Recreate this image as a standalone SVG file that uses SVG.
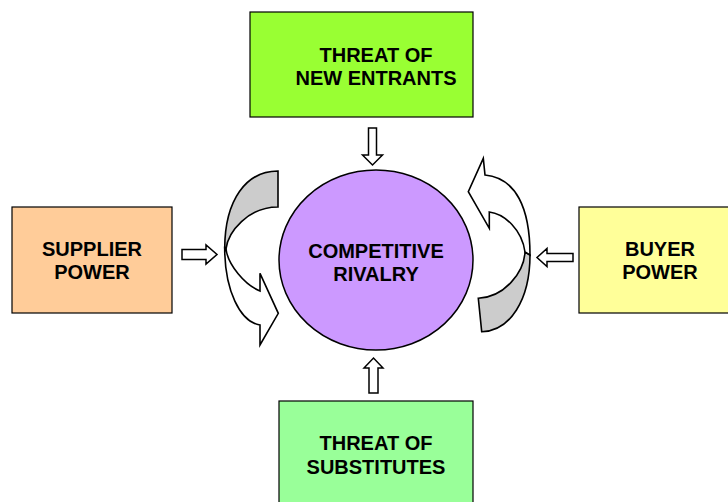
<svg xmlns="http://www.w3.org/2000/svg" width="728" height="502" viewBox="0 0 728 502">
  <style>
    .box { stroke: #000; stroke-width: 1.2; }
    .lbl { font-family: "Liberation Sans", Arial, sans-serif; font-weight: bold; font-size: 20px; fill: #000; text-anchor: middle; }
    .blk { fill: #fff; stroke: #000; stroke-width: 1.5; stroke-linejoin: miter; }
    .back { fill: #cccccc; stroke: #000; stroke-width: 1.6; stroke-linejoin: miter; }
    .front { fill: #fff; stroke: #000; stroke-width: 1.6; stroke-linejoin: miter; }
  </style>
  <rect width="728" height="502" fill="#fff"/>

  <!-- forces -->
  <g id="new-entrants">
    <rect class="box" x="250" y="12" width="223" height="105" fill="#99ff33"/>
    <text class="lbl" x="376" y="62">THREAT OF</text>
    <text class="lbl" x="376" y="85">NEW ENTRANTS</text>
  </g>
  <g id="supplier-power">
    <rect class="box" x="12" y="207" width="160" height="106" fill="#ffcc99"/>
    <text class="lbl" x="92" y="256">SUPPLIER</text>
    <text class="lbl" x="92" y="279">POWER</text>
  </g>
  <g id="buyer-power">
    <rect class="box" x="579" y="207" width="170" height="106" fill="#ffff99"/>
    <text class="lbl" x="660" y="256">BUYER</text>
    <text class="lbl" x="660" y="279">POWER</text>
  </g>
  <g id="substitutes">
    <rect class="box" x="279" y="401" width="194" height="110" fill="#99ff99"/>
    <text class="lbl" x="376" y="450">THREAT OF</text>
    <text class="lbl" x="376" y="474">SUBSTITUTES</text>
  </g>
  <g id="rivalry">
    <ellipse cx="376" cy="260" rx="97" ry="90" fill="#cc99ff" stroke="#000" stroke-width="1.5"/>
    <text class="lbl" x="376" y="258">COMPETITIVE</text>
    <text class="lbl" x="376" y="281">RIVALRY</text>
  </g>

  <g id="connectors">
    <!-- straight block arrows pointing at the centre -->
    <path class="blk" d="M368.5,128 H376.5 V155 H382.5 L372.5,165 L362.5,155 H368.5 Z"/>
    <path class="blk" d="M369,393 V368 H364 L373.5,358 L383,368 H378 V393 Z"/>
    <path class="blk" d="M182,249.5 H206 V245 L217,254.5 L206,264 V259.5 H182 Z"/>
    <path class="blk" d="M573,253.5 H547 V248.5 L537,257.5 L547,266.5 V261.5 H573 Z"/>

    <!-- left curved arrow: shaded back half, white front half with head -->
    <path class="back" d="M278,171 C246,171 225,200 224.7,248 L226,249 C228,232 248,207 278,207 Z"/>
    <path class="front" d="M224.7,248 C224.7,290 240,322 260,325 L260,345 L278.3,313.3 L260,273.3 L260,291 C245,285 228,265 226,249 Z"/>

    <!-- right curved arrow: shaded back half, white front half with head -->
    <path class="back" d="M530,255 C530,300 510,331 481.7,331.7 L478.3,298.3 C505,297 524,272 525,252 Z"/>
    <path class="front" d="M530,255 C530,208 516,178 485,175 L483.3,158.3 L468.3,191.7 L489.3,228.3 L489.3,212 C505,214 522,230 525,252 Z"/>
  </g>
</svg>
